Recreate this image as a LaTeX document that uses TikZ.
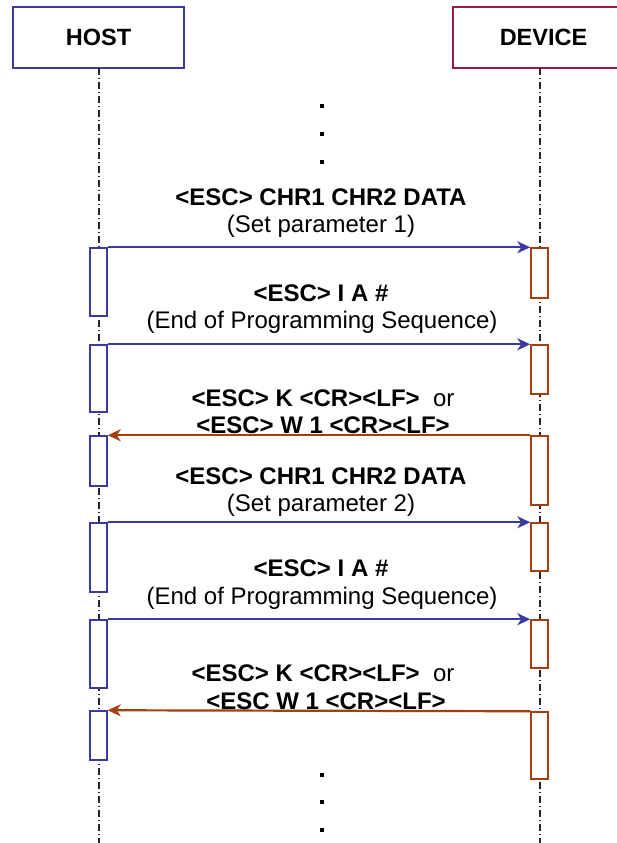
\documentclass[tikz,border=0pt]{standalone}
\usepackage{fontspec}
\setmainfont{Liberation Sans}
\usetikzlibrary{arrows.meta}
\definecolor{hblue}{RGB}{58,58,160}
\definecolor{dbrown}{RGB}{165,62,16}
\definecolor{dmaroon}{RGB}{155,25,68}
\tikzset{
  hdr/.style={draw, line width=1.4pt, fill=white, minimum height=61pt, inner sep=0pt, font=\fontsize{23.5}{27}\selectfont\bfseries},
  life/.style={draw=black!85, line width=1.1pt, dash pattern=on 7pt off 3pt on 1pt off 3pt},
  hact/.style={draw=hblue, line width=1.5pt, fill=white, minimum width=17pt, inner sep=0pt},
  dact/.style={draw=dbrown, line width=1.5pt, fill=white, minimum width=17pt, inner sep=0pt},
  toDev/.style={draw=hblue, line width=2.2pt, -{Stealth[length=13pt,width=12pt,inset=4pt]}},
  toHost/.style={draw=dbrown, line width=2.2pt, -{Stealth[length=13pt,width=12pt,inset=4pt]}},
  lblb/.style={anchor=base, inner sep=0pt, font=\fontsize{24}{28}\selectfont\bfseries},
  lbln/.style={anchor=base, inner sep=0pt, font=\fontsize{24}{28}\selectfont},
  dotm/.style={fill=black, minimum size=4pt, inner sep=0pt, draw=none}
}
\begin{document}
\begin{tikzpicture}[x=1pt,y=-1pt]
\useasboundingbox (0,0) rectangle (616,843);
% headers
\node[hdr, draw=hblue, minimum width=171pt] (host) at (98.5,37.5) {HOST};
\node[hdr, draw=dmaroon, minimum width=181pt] (dev) at (543.5,37.5) {DEVICE};
\coordinate (hend) at (99,843);
\coordinate (dend) at (540,843);
\draw[life] (99,68) -- (hend);
\draw[life] (540,68) -- (dend);
% activation boxes host
\node[hact, minimum height=68pt] (h1) at (98.5,282) {};
\node[hact, minimum height=67pt] (h2) at (98.5,378.5) {};
\node[hact, minimum height=50pt] (h3) at (98.5,461) {};
\node[hact, minimum height=69pt] (h4) at (98.5,557.5) {};
\node[hact, minimum height=68pt] (h5) at (98.5,654) {};
\node[hact, minimum height=49pt] (h6) at (98.5,735.5) {};
% activation boxes device
\node[dact, minimum height=50pt] (d1) at (539.5,273) {};
\node[dact, minimum height=49pt] (d2) at (539.5,369.5) {};
\node[dact, minimum height=69pt] (d3) at (539.5,470.5) {};
\node[dact, minimum height=48pt] (d4) at (539.5,547) {};
\node[dact, minimum height=48pt] (d5) at (539.5,644) {};
\node[dact, minimum height=67pt] (d6) at (539.5,745.5) {};
% messages
\draw[toDev] (h1.north east) -- (d1.north west);
\draw[toDev] (h2.north east) -- (d2.north west);
\draw[toHost] (d3.north west) -- (h3.north east);
\draw[toDev] (h4.north east) -- (d4.north west);
\draw[toDev] (h5.north east) -- (d5.north west);
\draw[toHost] (d6.north west) -- (h6.north east);
% labels
\node[lblb] (m1a) at (321,205) {<ESC> CHR1 CHR2 DATA};
\node[lbln] (m1b) at (321,232) {(Set parameter 1)};
\node[lblb] (m2a) at (321,301) {<ESC> I A \#};
\node[lbln] (m2b) at (322,328) {(End of Programming Sequence)};
\node[lblb] (m3a) at (323,406) {<ESC> K <CR><LF>\ \ \mdseries or};
\node[lblb] (m3b) at (323,433) {<ESC> W 1 <CR><LF>};
\node[lblb] (m4a) at (321,484) {<ESC> CHR1 CHR2 DATA};
\node[lbln] (m4b) at (321,511) {(Set parameter 2)};
\node[lblb] (m5a) at (321,576) {<ESC> I A \#};
\node[lbln] (m5b) at (322,604) {(End of Programming Sequence)};
\node[lblb] (m6a) at (323,681) {<ESC> K <CR><LF>\ \ \mdseries or};
\node[lblb] (m6b) at (326,709) {<ESC W 1 <CR><LF>};
% continuation dots
\node[dotm] (t1) at (321.5,105.5) {};
\node[dotm] (t2) at (321.5,133.5) {};
\node[dotm] (t3) at (321.5,161.5) {};
\node[dotm] (b1) at (322,775) {};
\node[dotm] (b2) at (322,802) {};
\node[dotm] (b3) at (322,830) {};
\end{tikzpicture}
\end{document}
